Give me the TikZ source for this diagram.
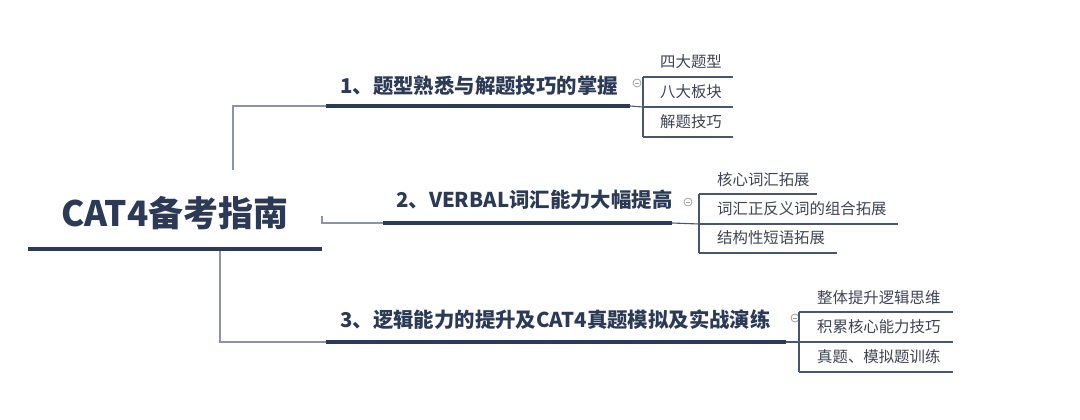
\documentclass[tikz,border=0pt]{standalone}
\usepackage{fontspec}
\setmainfont{Noto Sans CJK SC}
\begin{document}
\begin{tikzpicture}[x=1pt,y=-1pt,
  rootlbl/.style={font=\fontsize{35}{35}\selectfont\bfseries, text=navyc, inner sep=0pt},
  branchlbl/.style={font=\fontsize{20.4}{21}\selectfont\bfseries, text=navyc, inner sep=0pt, anchor=west},
  leaflbl/.style={font=\fontsize{15.4}{16}\selectfont, text=leaftext, inner sep=0pt, anchor=west},
  rootbar/.style={draw=navyc, line width=4.5pt},
  bar/.style={draw=navyc, line width=4pt},
  conn/.style={draw=connc, line width=1.2pt},
  leafline/.style={draw=leafc, line width=1.1pt},
  fold/.style={draw=foldc, line width=0.8pt, circle, minimum size=8pt, inner sep=0pt},
  foldbar/.style={draw=foldc, line width=0.6pt}
]
\definecolor{navyc}{HTML}{2D3A55}
\definecolor{connc}{HTML}{8E94A6}
\definecolor{leafc}{HTML}{4A5570}
\definecolor{leaftext}{HTML}{3E4452}
\definecolor{foldc}{HTML}{9A9FAA}
\useasboundingbox (0,0) rectangle (1080,420);
\fill[white] (0,0) rectangle (1080,420);

% root
\node[rootlbl] (root) at (175,213) {CAT4备考指南};
\coordinate (rootL) at (28,249);
\coordinate (rootR) at (322,249);
\draw[rootbar] (rootL) -- (rootR);
\coordinate (rootUp) at (233,170);
\coordinate (rootMid) at (322,216);
\coordinate (rootDown) at (220,251);

% branch 1
\node[branchlbl] (b1) at (340,86) {1、题型熟悉与解题技巧的掌握};
\coordinate (b1L) at (326,106);
\coordinate (b1R) at (630,106);
\draw[bar] (b1L) -- (b1R);
\draw[conn] (rootUp) |- (b1L);
\node[fold] (f1) at (637,83) {};
\draw[foldbar] ([xshift=-2.2pt]f1.center) -- ([xshift=2.2pt]f1.center);
\coordinate (v1t) at (643,77);
\coordinate (v1m) at (643,107);
\coordinate (v1b) at (643,137);
\draw[leafline] (b1R) -- (v1m);
\draw[leafline] (v1t) -- (v1b);
\node[leaflbl] (l11) at (660,62) {四大题型};
\node[leaflbl] (l12) at (660,92) {八大板块};
\node[leaflbl] (l13) at (660,122) {解题技巧};
\coordinate (e11) at (733,77);
\coordinate (e12) at (733,107);
\coordinate (e13) at (733,137);
\draw[leafline] (v1t) -- (e11);
\draw[leafline] (v1m) -- (e12);
\draw[leafline] (v1b) -- (e13);

% branch 2
\node[branchlbl] (b2) at (396,200) {2、VERBAL词汇能力大幅提高};
\coordinate (b2L) at (383,223);
\coordinate (b2R) at (672,223);
\draw[bar] (b2L) -- (b2R);
\draw[conn] (rootMid) |- (b2L);
\node[fold] (f2) at (688,202) {};
\draw[foldbar] ([xshift=-2.2pt]f2.center) -- ([xshift=2.2pt]f2.center);
\coordinate (v2t) at (699,194);
\coordinate (v2m) at (699,224);
\coordinate (v2b) at (699,253);
\draw[leafline] (b2R) -- (v2m);
\draw[leafline] (v2t) -- (v2b);
\node[leaflbl] (l21) at (717,180) {核心词汇拓展};
\node[leaflbl] (l22) at (717,209) {词汇正反义词的组合拓展};
\node[leaflbl] (l23) at (717,238) {结构性短语拓展};
\coordinate (e21) at (817,194);
\coordinate (e22) at (898,224);
\coordinate (e23) at (837,253);
\draw[leafline] (v2t) -- (e21);
\draw[leafline] (v2m) -- (e22);
\draw[leafline] (v2b) -- (e23);

% branch 3
\node[branchlbl] (b3) at (340,320) {3、逻辑能力的提升及CAT4真题模拟及实战演练};
\coordinate (b3L) at (326,342);
\coordinate (b3R) at (786,342);
\draw[bar] (b3L) -- (b3R);
\draw[conn] (rootDown) |- (b3L);
\node[fold] (f3) at (795,318) {};
\draw[foldbar] ([xshift=-2.2pt]f3.center) -- ([xshift=2.2pt]f3.center);
\coordinate (v3t) at (799,312);
\coordinate (v3m) at (799,342);
\coordinate (v3b) at (799,372);
\draw[leafline] (b3R) -- (v3m);
\draw[leafline] (v3t) -- (v3b);
\node[leaflbl] (l31) at (817,298) {整体提升逻辑思维};
\node[leaflbl] (l32) at (817,327) {积累核心能力技巧};
\node[leaflbl] (l33) at (817,357) {真题、模拟题训练};
\coordinate (e31) at (953,312);
\coordinate (e32) at (953,342);
\coordinate (e33) at (953,372);
\draw[leafline] (v3t) -- (e31);
\draw[leafline] (v3m) -- (e32);
\draw[leafline] (v3b) -- (e33);
\end{tikzpicture}
\end{document}
